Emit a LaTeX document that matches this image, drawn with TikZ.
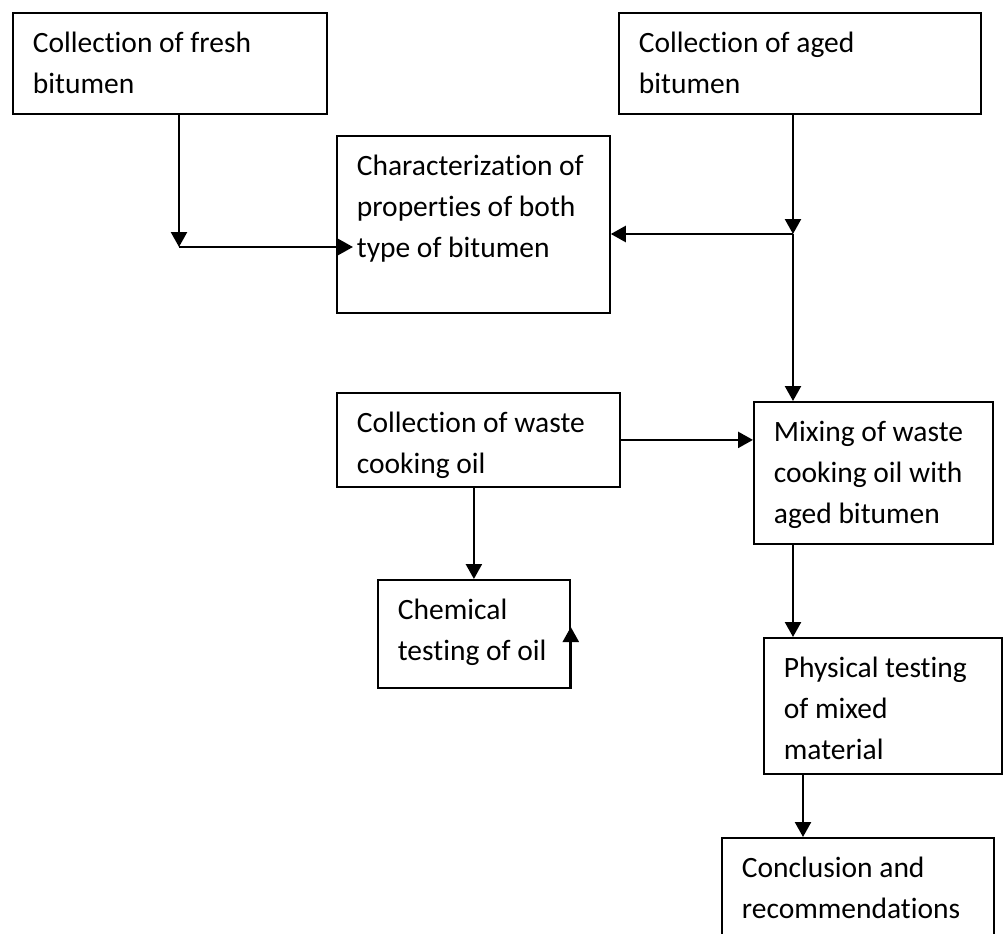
\documentclass[tikz,border=0pt]{standalone}
\usepackage{fontspec}
\setmainfont{Carlito}[Ligatures = NoCommon]
\usetikzlibrary{arrows.meta}
\begin{document}
\begin{tikzpicture}[x = 1pt, y = -1pt,
  box/.style = {draw = black, line width = 1.8pt, anchor = north west, align = flush left, inner xsep = 20pt, inner ysep = 0pt, text height = 40pt, font = \fontsize{29.5}{41}\selectfont},
  arr/.style = {line width = 2.4pt, -{Triangle[length = 15pt, width = 16pt]}}]
\clip (0,0) rectangle (1005,934);
\node[box, text width = 274pt, text depth = 61pt] (fresh) at (12,12) {Collection of fresh\\bitumen};
\node[box, text width = 322pt, text depth = 61pt] (aged) at (618,12) {Collection of aged\\bitumen};
\node[box, text width = 233pt, text depth = 137pt] (char) at (336,135) {Characterization of\\properties of both\\type of bitumen};
\node[box, text width = 243pt, text depth = 54pt] (waste) at (336,392) {Collection of waste\\cooking oil};
\node[box, text width = 199pt, text depth = 102pt] (mix) at (753,401) {Mixing of waste\\cooking oil with\\aged bitumen};
\node[box, text width = 152pt, text depth = 68pt] (chem) at (377,579) {Chemical\\testing of oil};
\node[box, text width = 198pt, text depth = 96pt] (phys) at (763,637) {Physical testing\\of mixed\\material};
\node[box, text width = 232pt, text depth = 120pt] (concl) at (721,837) {Conclusion and\\recommendations};
\coordinate (jf) at (179,247);
\coordinate (cin) at (353,247);
\coordinate (ja) at (793,234);
\draw[arr] (fresh.south -| jf) -- (jf);
\draw[arr] (jf) -- (cin);
\draw[arr] (aged.south -| ja) -- (ja);
\draw[arr] (ja) -- (ja -| char.east);
\draw[arr] (ja) -- (ja |- mix.north);
\draw[arr] (waste.east) -- (waste.east -| mix.west);
\draw[arr] (waste.south -| chem.north) -- (chem.north);
\draw[arr] (chem.south east) -- ([yshift = -48pt]chem.north east);
\draw[arr] (ja |- mix.south) -- (ja |- phys.north);
\draw[arr] ([xshift = 40pt]phys.south west) -- ([xshift = 40pt]phys.south west |- concl.north);
\end{tikzpicture}
\end{document}
